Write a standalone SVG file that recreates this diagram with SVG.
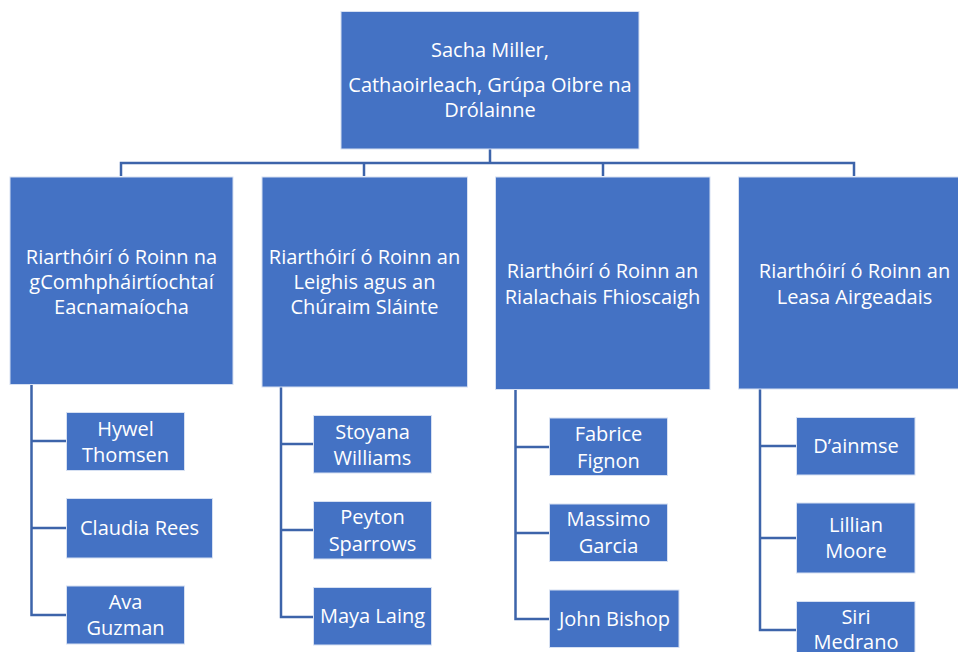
<svg xmlns="http://www.w3.org/2000/svg" width="958" height="652" viewBox="0 0 958 652">
<style>
  .box { fill: #4472C4; stroke: #D6E0F2; stroke-width: 1; }
  .t { font-family: "Open Sans", "Noto Sans", "Liberation Sans", sans-serif; font-size: 20px; fill: #FFFFFF; text-anchor: middle; }
  .c { fill: none; stroke: #3D64AA; stroke-width: 2.5; }
</style>
<rect width="958" height="652" fill="#FFFFFF"/>
<g id="connectors">
  <path class="c" d="M490,149 V163 M121,176 V163 H854 V176 M364,163 V176 M603,163 V176"/>
  <path class="c" d="M31.5,384 V615 H66 M31.5,441 H66 M31.5,528 H66"/>
  <path class="c" d="M281,387 V617 H314 M281,444 H314 M281,530 H314"/>
  <path class="c" d="M515.5,389.5 V619 H550 M515.5,447 H550 M515.5,533 H550"/>
  <path class="c" d="M760,389 V630 H797 M760,446 H797 M760,538 H797"/>
</g>
<g id="sacha">
  <rect class="box" x="341" y="11.5" width="298" height="137.5"/>
  <text class="t" x="490" y="57">Sacha Miller,</text>
  <text class="t" x="490" y="92">Cathaoirleach, Grúpa Oibre na</text>
  <text class="t" x="490" y="117">Drólainne</text>
</g>
<g id="dept1">
  <rect class="box" x="10" y="177" width="223" height="207.5"/>
  <text class="t" x="121.5" y="263.5">Riarthóirí ó Roinn na</text>
  <text class="t" x="121.5" y="288.5">gComhpháirtíochtaí</text>
  <text class="t" x="121.5" y="313.5">Eacnamaíocha</text>
</g>
<g id="dept2">
  <rect class="box" x="262" y="177" width="205.5" height="210"/>
  <text class="t" x="364.5" y="264">Riarthóirí ó Roinn an</text>
  <text class="t" x="364.5" y="289">Leighis agus an</text>
  <text class="t" x="364.5" y="314">Chúraim Sláinte</text>
</g>
<g id="dept3">
  <rect class="box" x="495.5" y="177" width="214.5" height="212.5"/>
  <text class="t" x="602.5" y="277.5">Riarthóirí ó Roinn an</text>
  <text class="t" x="602.5" y="303.5">Rialachais Fhioscaigh</text>
</g>
<g id="dept4">
  <rect class="box" x="738.5" y="177" width="225" height="212"/>
  <text class="t" x="854.5" y="277.5">Riarthóirí ó Roinn an</text>
  <text class="t" x="854.5" y="303.5">Leasa Airgeadais</text>
</g>
<g id="hywel">
  <rect class="box" x="66.5" y="412.5" width="118" height="58"/>
  <text class="t" x="125.5" y="435.5">Hywel</text>
  <text class="t" x="125.5" y="461.5">Thomsen</text>
</g>
<g id="claudia">
  <rect class="box" x="66.5" y="498.5" width="146" height="59.5"/>
  <text class="t" x="139.5" y="535">Claudia Rees</text>
</g>
<g id="ava">
  <rect class="box" x="66.5" y="586" width="118" height="58"/>
  <text class="t" x="125.5" y="609">Ava</text>
  <text class="t" x="125.5" y="635">Guzman</text>
</g>
<g id="stoyana">
  <rect class="box" x="313.5" y="415.5" width="118" height="57.5"/>
  <text class="t" x="372.5" y="438.5">Stoyana</text>
  <text class="t" x="372.5" y="465">Williams</text>
</g>
<g id="peyton">
  <rect class="box" x="313.5" y="501.5" width="118" height="57.5"/>
  <text class="t" x="372.5" y="524">Peyton</text>
  <text class="t" x="372.5" y="550.5">Sparrows</text>
</g>
<g id="maya">
  <rect class="box" x="313.5" y="587.5" width="118" height="57.5"/>
  <text class="t" x="372.5" y="623">Maya Laing</text>
</g>
<g id="fabrice">
  <rect class="box" x="549.5" y="418" width="118" height="57.5"/>
  <text class="t" x="608.5" y="441">Fabrice</text>
  <text class="t" x="608.5" y="467.5">Fignon</text>
</g>
<g id="massimo">
  <rect class="box" x="549.5" y="504" width="118" height="57.5"/>
  <text class="t" x="608.5" y="526">Massimo</text>
  <text class="t" x="608.5" y="552.5">Garcia</text>
</g>
<g id="john">
  <rect class="box" x="549.5" y="590" width="129.5" height="57.5"/>
  <text class="t" x="614.5" y="626">John Bishop</text>
</g>
<g id="dainmse">
  <rect class="box" x="796.5" y="417.5" width="118.5" height="57.5"/>
  <text class="t" x="856" y="453">D’ainmse</text>
</g>
<g id="lillian">
  <rect class="box" x="796.5" y="503" width="118.5" height="70"/>
  <text class="t" x="856" y="532">Lillian</text>
  <text class="t" x="856" y="558">Moore</text>
</g>
<g id="siri">
  <rect class="box" x="796.5" y="601.5" width="118.5" height="70"/>
  <text class="t" x="856" y="623.5">Siri</text>
  <text class="t" x="856" y="649">Medrano</text>
</g>
</svg>
